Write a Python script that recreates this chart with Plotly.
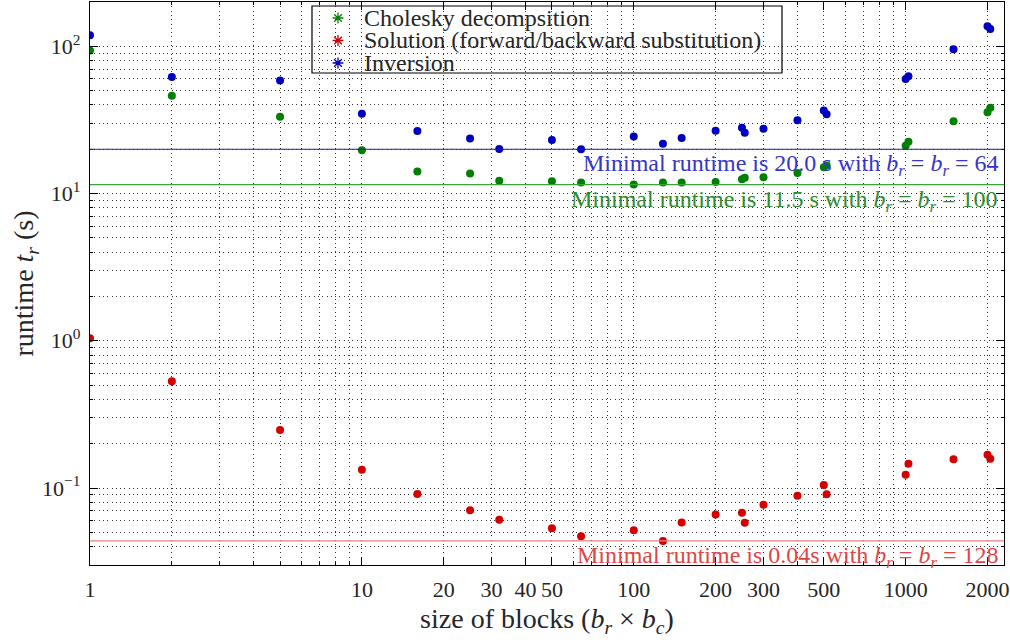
import plotly.graph_objects as go
import numpy as np

block_sizes = [1, 2, 5, 10, 16, 25, 32, 50, 64, 100, 128, 150, 200, 250, 256, 300, 400, 500, 512, 1000, 1024, 1500, 2000, 2048]
cholesky = [93.5, 46.2, 33.2, 19.7, 14.1, 13.7, 12.2, 12.1, 11.9, 11.5, 11.9, 11.9, 12.0, 12.5, 12.8, 12.9, 13.8, 15.1, 15.5, 21.1, 22.5, 31.0, 35.6, 38.3]
solution = [1.04, 0.532, 0.248, 0.133, 0.091, 0.0705, 0.0608, 0.0534, 0.0471, 0.0517, 0.0437, 0.0583, 0.0662, 0.068, 0.058, 0.0769, 0.0886, 0.1047, 0.0906, 0.123, 0.146, 0.157, 0.168, 0.158]
inversion = [119, 61.8, 58.5, 34.8, 26.6, 23.7, 20.1, 23.1, 20.0, 24.4, 21.8, 23.8, 26.7, 28.0, 25.9, 27.5, 31.5, 36.7, 34.5, 60.0, 62.5, 95.4, 137, 131]

series_names = ["Cholesky decompsition", "Solution (forward/backward substitution)", "Inversion"]

x_tickvals = [1, 10, 20, 30, 40, 50, 100, 200, 300, 500, 1000, 2000]
x_ticktext = ["1", "10", "20", "30", "40", "50", "100", "200", "300", "500", "1000", "2000"]
y_tickvals = [0.1, 1, 10, 100]
y_ticktext = ["10<sup>−1</sup>", "10<sup>0</sup>", "10<sup>1</sup>", "10<sup>2</sup>"]

FONT = "Liberation Serif"
TXT = "#262626"
W, H = 1010, 642
ML, MR, MT, MB = 90, 6, 2, 77
PW, PH = W - ML - MR, H - MT - MB

series = [
    (series_names[0], cholesky, "#008000", "#3aa33a", "#2e8b2e"),
    (series_names[1], solution, "#d40000", "#e88080", "#e04545"),
    (series_names[2], inversion, "#0000c0", "#20208a", "#3535cc"),
]

fig = go.Figure()
for name, vals, col, lcol, tcol in series:
    fig.add_trace(go.Scatter(x=block_sizes, y=vals, mode="markers", name=name, showlegend=False,
                             marker=dict(color=col, size=8, line=dict(width=0))))

# minimal runtime lines + labels
for name, vals, col, lcol, tcol in series:
    i = int(np.argmin(vals))
    vmin = vals[i]
    fig.add_shape(type="line", xref="paper", x0=0, x1=1, yref="y", y0=vmin, y1=vmin,
                  line=dict(color=lcol, width=1.2))
    label = f"{vmin:.1f}" if vmin >= 1 else f"{vmin:.2f}"
    sp = " " if vmin >= 1 else ""
    fig.add_annotation(xref="paper", x=0.996, yref="y", y=np.log10(vmin),
                       xanchor="right", yanchor="top", yshift=1, showarrow=False,
                       text=f"Minimal runtime is {label}{sp}s with <i>b<sub>r</sub></i> = <i>b<sub>r</sub></i> = {block_sizes[i]}",
                       font=dict(family=FONT, size=24, color=tcol))

# hand-built legend box (pixel layout converted to paper coords)
def px2paper_x(px):
    return (px - ML) / PW

def px2paper_y(py):
    return 1 - (py - MT) / PH

box = (312, 6, 782, 73)
fig.add_shape(type="rect", xref="paper", yref="paper",
              x0=px2paper_x(box[0]), x1=px2paper_x(box[2]),
              y0=px2paper_y(box[3]), y1=px2paper_y(box[1]),
              line=dict(color="black", width=1.2), fillcolor="rgba(0,0,0,0)", layer="above")
row_y = [18, 40.5, 63]
for (name, vals, col, lcol, tcol), ry in zip(series, row_y):
    fig.add_annotation(xref="paper", yref="paper", x=px2paper_x(362), y=px2paper_y(ry),
                       xanchor="left", yanchor="middle", showarrow=False, text=name,
                       font=dict(family=FONT, size=24, color=TXT))
fig.add_trace(go.Scatter(x=[px2paper_x(338)] * 3, y=[px2paper_y(r) for r in row_y],
                         xaxis="x2", yaxis="y2", mode="markers", showlegend=False, hoverinfo="skip",
                         marker=dict(symbol="asterisk-open", size=9,
                                     color=[s[2] for s in series],
                                     line=dict(color=[s[2] for s in series], width=1.3))))

def minor_vals(lo, hi):
    out = []
    for e in range(lo, hi):
        for m in range(2, 10):
            out.append(m * 10.0 ** e)
    return out

xminor = [v for v in minor_vals(0, 4) if v <= 2300]
yminor = [v for v in minor_vals(-2, 3) if 0.03 <= v <= 200]

GRID = dict(showgrid=True, gridcolor="#333333", griddash="1px,3.3px", gridwidth=1)

fig.update_layout(
    xaxis=dict(type="log", range=[0, np.log10(2300)], tickmode="array",
               tickvals=x_tickvals, ticktext=x_ticktext,
               ticks="inside", ticklen=8, tickcolor="black", tickwidth=1,
               showline=True, linecolor="black", linewidth=1.3, mirror="ticks",
               minor=dict(tickmode="array", tickvals=xminor, ticks="inside", ticklen=3,
                          tickcolor="black", **GRID),
               tickfont=dict(family=FONT, size=22, color=TXT), ticklabelstandoff=4,
               title=dict(text="size of blocks (<i>b<sub>r</sub></i> × <i>b<sub>c</sub></i>)",
                          font=dict(family=FONT, size=28, color=TXT), standoff=7),
               zeroline=False, automargin=False, **GRID),
    yaxis=dict(type="log", range=[np.log10(0.03), np.log10(200)], tickmode="array",
               tickvals=y_tickvals, ticktext=y_ticktext,
               ticks="inside", ticklen=8, tickcolor="black", tickwidth=1,
               showline=True, linecolor="black", linewidth=1.3, mirror="ticks",
               minor=dict(tickmode="array", tickvals=yminor, ticks="inside", ticklen=3,
                          tickcolor="black", **GRID),
               tickfont=dict(family=FONT, size=22, color=TXT), ticklabelstandoff=4,
               title=dict(text="runtime <i>t<sub>r</sub></i> (s)",
                          font=dict(family=FONT, size=28, color=TXT), standoff=0),
               zeroline=False, automargin=False, **GRID),
    xaxis2=dict(overlaying="x", range=[0, 1], visible=False, fixedrange=True, showgrid=False),
    yaxis2=dict(overlaying="y", range=[0, 1], visible=False, fixedrange=True, showgrid=False),
    width=W, height=H,
    margin=dict(l=ML, r=MR, t=MT, b=MB),
    plot_bgcolor="white", paper_bgcolor="white",
    font=dict(family=FONT, color=TXT),
    showlegend=False,
)

fig.write_html("out.html", config={"displayModeBar": False},
               post_script="document.body.style.margin='0';")
